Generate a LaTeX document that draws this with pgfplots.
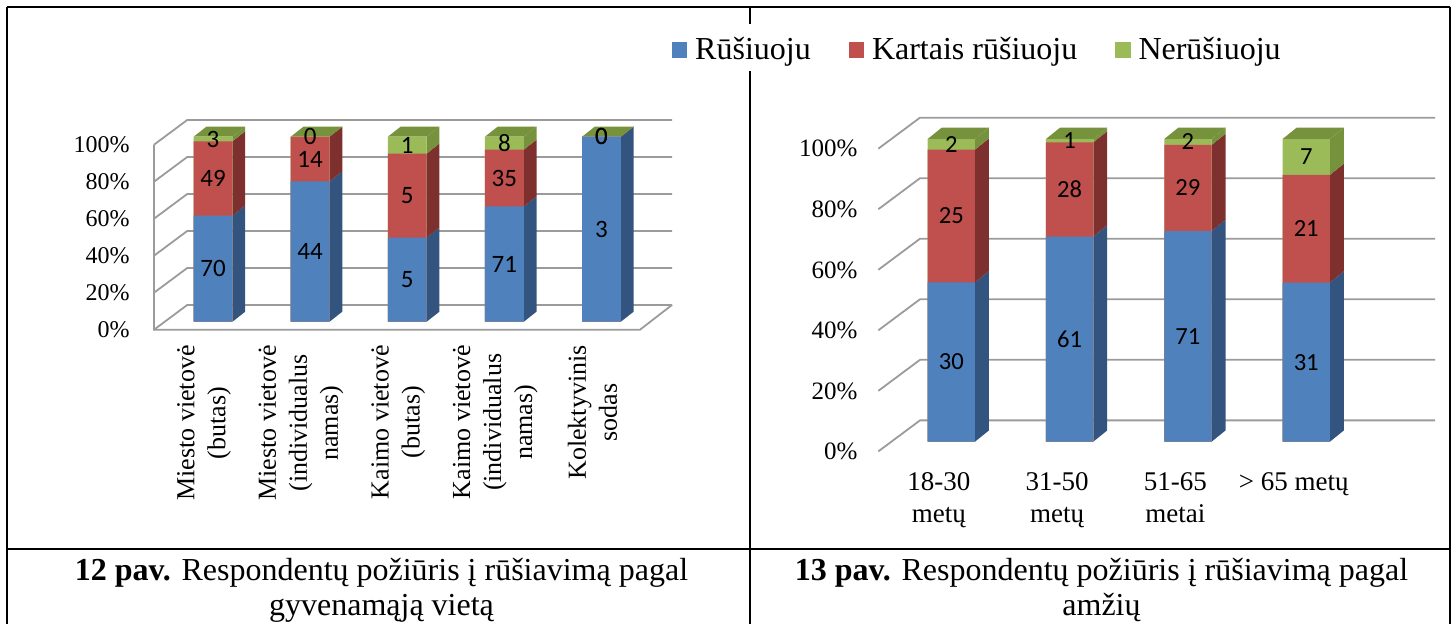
\documentclass[border=0pt]{standalone}
\usepackage{fontspec}
\setmainfont{Liberation Serif}
\newfontfamily\calib{Carlito}
\usepackage{pgfplots}
\usepackage{pgfplotstable}
\pgfplotsset{compat=1.18}

\definecolor{cblue}{RGB}{79,129,189}
\definecolor{bside}{RGB}{52,84,128}
\definecolor{cred}{RGB}{192,80,77}
\definecolor{rside}{RGB}{125,48,46}
\definecolor{cgreen}{RGB}{155,187,89}
\definecolor{gside}{RGB}{118,146,60}
\definecolor{wallgray}{RGB}{155,155,155}

% shares in percent (a = Rusiuoju, b = Kartais rusiuoju, c = Nerusiuoju), counts na nb nc
\pgfplotstableread{
x a b c na nb nc
0 57.38 40.16 2.46 70 49 3
1 75.86 24.14 0 44 14 0
2 45.45 45.45 9.09 5 5 1
3 62.28 30.70 7.02 71 35 8
4 100 0 0 3 0 0
}\tabA

\pgfplotstableread{
x a b c na nb nc
0 52.63 43.86 3.51 30 25 2
1 67.78 31.11 1.11 61 28 1
2 69.61 28.43 1.96 71 29 2
3 52.54 35.59 11.86 31 21 7
}\tabB

% side and top faces of the 3D bars: #1 table, #2 last row, #3 half width, #4 depth dx, #5 depth dy
\newcommand\drawsides[5]{%
  \pgfplotsinvokeforeach{0,...,#2}{%
    \pgfplotstablegetelem{##1}{a}\of{#1}\let\va\pgfplotsretval
    \pgfplotstablegetelem{##1}{b}\of{#1}\let\vb\pgfplotsretval
    \pgfplotstablegetelem{##1}{c}\of{#1}\let\vc\pgfplotsretval
    \pgfmathsetmacro\xl{##1-#3}%
    \pgfmathsetmacro\xr{##1+#3}%
    \pgfmathsetmacro\xlb{\xl+#4}%
    \pgfmathsetmacro\xrb{\xr+#4}%
    \pgfmathsetmacro\ya{\va}%
    \pgfmathsetmacro\yb{\va+\vb}%
    \pgfmathsetmacro\yc{\va+\vb+\vc}%
    \pgfmathsetmacro\yo{#5}%
    \pgfmathsetmacro\yab{\ya+#5}%
    \pgfmathsetmacro\ybb{\yb+#5}%
    \pgfmathsetmacro\ycb{\yc+#5}%
    \edef\tmp{%
      \noexpand\addplot[forget plot,draw=none,fill=bside] coordinates {(\xr,0) (\xrb,\yo) (\xrb,\yab) (\xr,\ya)};
      \noexpand\addplot[forget plot,draw=none,fill=rside] coordinates {(\xr,\ya) (\xrb,\yab) (\xrb,\ybb) (\xr,\yb)};
      \noexpand\addplot[forget plot,draw=none,fill=gside] coordinates {(\xr,\yb) (\xrb,\ybb) (\xrb,\ycb) (\xr,\yc)};
      \noexpand\addplot[forget plot,draw=none,fill=gside] coordinates {(\xl,\yc) (\xlb,\ycb) (\xrb,\ycb) (\xr,\yc)};
    }\tmp
  }%
}

% front faces and labels: #1 table, #2 label font
\newcommand\drawfronts[2]{%
  \addplot[forget plot, ybar, bar width=0.4, bar shift=0, draw=none, fill=cgreen] table[x=x, y expr=\thisrow{a}+\thisrow{b}+\thisrow{c}] {#1};
  \addplot[forget plot, ybar, bar width=0.4, bar shift=0, draw=none, fill=cred] table[x=x, y expr=\thisrow{a}+\thisrow{b}] {#1};
  \addplot[forget plot, ybar, bar width=0.4, bar shift=0, draw=none, fill=cblue] table[x=x, y=a] {#1};
  \addplot[forget plot, draw=none, point meta=explicit, nodes near coords, nodes near coords style={anchor=center, inner sep=0pt, font=#2}] table[x=x, y expr=\thisrow{a}/2, meta=na] {#1};
  \addplot[forget plot, draw=none, point meta=explicit, nodes near coords, nodes near coords style={anchor=center, inner sep=0pt, font=#2}] table[x=x, y expr=\thisrow{a}+\thisrow{b}/2, meta=nb] {#1};
  \addplot[forget plot, draw=none, point meta=explicit, nodes near coords, nodes near coords style={anchor=center, inner sep=0pt, font=#2}] table[x=x, y expr=\thisrow{a}+\thisrow{b}+\thisrow{c}/2, meta=nc] {#1};
}

\newcommand\wallsA{%
  \pgfplotsinvokeforeach{0,20,40,60,80,100}{%
    \pgfmathsetmacro\wf{##1-4.32}\pgfmathsetmacro\wb{##1+9.08}%
    \edef\tmp{\noexpand\addplot[forget plot, wallgray, line width=0.9pt] coordinates {(-0.608,\wf) (-0.265,\wb) (4.727,\wb)};}\tmp
  }%
  \addplot[forget plot, wallgray, line width=0.9pt] coordinates {(-0.608,95.68) (-0.608,-4.32) (4.397,-4.32) (4.727,9.08)};
}

\newcommand\wallsB{%
  \pgfplotsinvokeforeach{0,20,40,60,80,100}{%
    \pgfmathsetmacro\wf{##1-3.2}\pgfmathsetmacro\wb{##1+7.05}%
    \edef\tmp{\noexpand\addplot[forget plot, wallgray, line width=0.9pt] coordinates {(-0.617,\wf) (-0.265,\wb) (4.089,\wb)};}\tmp
  }%
}

\begin{document}
\begin{tikzpicture}
\useasboundingbox (0,0) rectangle (727pt,-311.5pt);
\clip (0,0) rectangle (727pt,-311.5pt);

% table frame
\begin{scope}[line width=1pt]
\draw (3.5pt,-3.5pt) -- (725pt,-3.5pt);
\draw (3.5pt,-3.5pt) -- (3.5pt,-320pt);
\draw (725pt,-3.5pt) -- (725pt,-320pt);
\draw (375pt,-3.5pt) -- (375pt,-12pt);
\draw (375pt,-35.5pt) -- (375pt,-320pt);
\draw (3.5pt,-274.5pt) -- (725pt,-274.5pt);
\end{scope}

% captions
\node[anchor=base, inner sep=0pt, font=\fontsize{16}{17.5}\selectfont] at (190.75pt,-290pt) {\textbf{12 pav.} Respondentų požiūris į rūšiavimą pagal};
\node[anchor=base, inner sep=0pt, font=\fontsize{16}{17.5}\selectfont] at (190.75pt,-307.5pt) {gyvenamąją vietą};
\node[anchor=base, inner sep=0pt, font=\fontsize{16}{17.5}\selectfont] at (550.75pt,-290pt) {\textbf{13 pav.} Respondentų požiūris į rūšiavimą pagal};
\node[anchor=base, inner sep=0pt, font=\fontsize{16}{17.5}\selectfont] at (550.75pt,-307.5pt) {amžių};

% ---------------- chart 12 ----------------
\begin{axis}[
  at={(82.25pt,-160.85pt)}, anchor=south west,
  x=48.55pt, y=0.925pt,
  xmin=-0.5, xmax=4.5, ymin=0, ymax=100,
  enlargelimits=false, clip=false,
  axis line style={draw=none}, major tick length=0pt, tick style={draw=none},
  /pgf/number format/assume math mode=true,
  xtick={0,1,2,3,4},
  xticklabels={{Miesto vietovė\\(butas)},{Miesto vietovė\\(individualus\\namas)},{Kaimo vietovė\\(butas)},{Kaimo vietovė\\(individualus\\namas)},{Kolektyvinis\\sodas}},
  xticklabel style={font=\fontsize{13}{15.5}\selectfont, inner sep=0pt, xshift=-4.5pt, yshift=-11.65pt, rotate=90, anchor=east, align=center},
  ytick={0,20,40,60,80,100},
  yticklabels={0\%,20\%,40\%,60\%,80\%,100\%},
  yticklabel style={font=\fontsize{12}{14}\selectfont, anchor=east, inner sep=0pt, xshift=-17.25pt, yshift=-3.85pt},
]
\wallsA
\drawsides{\tabA}{4}{0.2}{0.131}{5.41}
\drawfronts{\tabA}{\calib\fontsize{12.5}{14}\selectfont}
\end{axis}

% ---------------- chart 13 ----------------
\begin{axis}[
  at={(446.08pt,-220.85pt)}, anchor=south west,
  x=59.15pt, y=1.5135pt,
  xmin=-0.5, xmax=3.5, ymin=0, ymax=100,
  enlargelimits=false, clip=false,
  axis line style={draw=none}, major tick length=0pt, tick style={draw=none},
  /pgf/number format/assume math mode=true,
  xtick={0,1,2,3},
  xticklabels={{18-30\\metų},{31-50\\metų},{51-65\\metai},{> 65 metų}},
  xticklabel style={font=\fontsize{13.5}{16}\selectfont, inner sep=0pt, anchor=north, align=center, xshift=-6.25pt, yshift=-15.15pt},
  ytick={0,20,40,60,80,100},
  yticklabels={0\%,20\%,40\%,60\%,80\%,100\%},
  yticklabel style={font=\fontsize{12.5}{14}\selectfont, anchor=east, inner sep=0pt, xshift=-17.2pt, yshift=-4.9pt},
  legend style={at={(axis description cs:-0.4652,1.294)}, anchor=west, draw=none, fill=none,
    inner sep=0pt, outer sep=0pt, legend columns=3, font=\fontsize{16}{18}\selectfont,
    nodes={inner sep=0pt},
    /tikz/every odd column/.append style={column sep=4pt},
    /tikz/every even column/.append style={column sep=19pt}},
  legend cell align=left,
]
\wallsB
\drawsides{\tabB}{3}{0.2}{0.118}{3.73}
\drawfronts{\tabB}{\calib\fontsize{12.3}{14}\selectfont}
\addlegendimage{legend image code/.code={\fill[cblue] (0pt,-3.6pt) rectangle (7.2pt,3.6pt);}}
\addlegendentry{Rūšiuoju}
\addlegendimage{legend image code/.code={\fill[cred] (0pt,-3.6pt) rectangle (7.2pt,3.6pt);}}
\addlegendentry{Kartais rūšiuoju}
\addlegendimage{legend image code/.code={\fill[cgreen] (0pt,-3.6pt) rectangle (7.2pt,3.6pt);}}
\addlegendentry{Nerūšiuoju}
\end{axis}
\end{tikzpicture}
\end{document}
